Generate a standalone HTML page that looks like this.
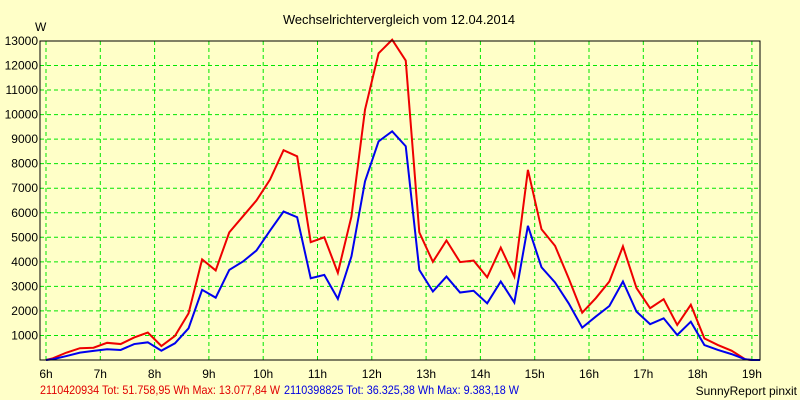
<!DOCTYPE html>
<html><head><meta charset="utf-8"><style>
body{margin:0;background:#ffffc8;}
svg{display:block;font-family:"Liberation Sans",sans-serif;}
</style></head><body>
<svg id="chart" width="800" height="400">
<rect x="0" y="0" width="800" height="400" fill="#ffffc8"/>
<text x="283" y="24" font-size="13" textLength="232" lengthAdjust="spacingAndGlyphs" fill="#000">Wechselrichtervergleich vom 12.04.2014</text>
<text x="35" y="31" font-size="12" fill="#000">W</text>
<g id="grid"></g><g id="series"></g><g id="ticks"></g>
<rect x="40" y="41" width="720" height="319" fill="none" stroke="#000" stroke-width="1"/>
<text x="40" y="394" font-size="12"><tspan fill="#e00000" textLength="240" lengthAdjust="spacingAndGlyphs">2110420934 Tot: 51.758,95 Wh Max: 13.077,84 W</tspan><tspan fill="#0000e0" x="284" textLength="235" lengthAdjust="spacingAndGlyphs">2110398825 Tot: 36.325,38 Wh Max: 9.383,18 W</tspan></text>
<text x="797" y="395" font-size="12" text-anchor="end" fill="#000">SunnyReport pinxit</text>
</svg>
<script>
const hourTicks=[6,7,8,9,10,11,12,13,14,15,16,17,18,19];
const valueTicks=[1000,2000,3000,4000,5000,6000,7000,8000,9000,10000,11000,12000,13000];
const redValues=[70,300,480,500,700,650,920,1120,570,980,1900,4100,3650,5200,5850,6500,7350,8550,8300,4800,5000,3550,5850,10200,12500,13050,12200,5200,4000,4870,3990,4050,3370,4580,3400,7750,5330,4650,3330,1930,2520,3200,4630,2930,2110,2480,1430,2250,880,610,380,30];
const blueValues=[30,160,300,370,440,410,650,720,380,680,1290,2860,2540,3670,4010,4460,5270,6050,5820,3330,3470,2490,4220,7280,8910,9320,8710,3670,2790,3400,2750,2820,2310,3200,2340,5470,3780,3160,2310,1320,1770,2200,3200,1970,1460,1700,1020,1560,610,410,240,30];
const startHour=6.125, stepHour=0.25;
const xS=h=>46+(h-6)*54.3;
const yS=v=>360-v*0.02454;
const NS="http://www.w3.org/2000/svg";
const grid=document.getElementById('grid'),ticks=document.getElementById('ticks'),ser=document.getElementById('series');
function mk(tag,attrs,parent){const e=document.createElementNS(NS,tag);for(const k in attrs)e.setAttribute(k,attrs[k]);parent.appendChild(e);return e;}
hourTicks.forEach(h=>{
  const l=mk('line',{x1:xS(h),x2:xS(h),y1:41,y2:360,stroke:'#00e600','stroke-dasharray':'4,3','stroke-width':1},grid);
  
  
  const t=mk('text',{x:xS(h),y:378,'font-size':12,'text-anchor':'middle',fill:'#000'},ticks);
  t.textContent=h+'h';
  
  
});
valueTicks.forEach(v=>{
  const l=mk('line',{x1:40,x2:760,y1:yS(v),y2:yS(v),stroke:'#00e600','stroke-dasharray':'4,3','stroke-width':1},grid);
  
  
  const t=mk('text',{x:38,y:yS(v)+4,'font-size':12,'text-anchor':'end',fill:'#000'},ticks);
  t.textContent=v;
  
  
});
function path(vals,color,name){
  const pts=[[xS(6),yS(0)]];
  vals.forEach((v,i)=>pts.push([xS(startHour+i*stepHour),yS(v)]));
  pts.push([xS(19),yS(0)]);pts.push([760,yS(0)]);
  const p=mk('polyline',{points:pts.map(p=>p.join(',')).join(' '),fill:'none',stroke:color,'stroke-width':2,'stroke-linejoin':'miter'},ser);
  
  
}
path(redValues,'#ee0000','series-2110420934');
path(blueValues,'#0000ee','series-2110398825');
</script>
</body></html>
